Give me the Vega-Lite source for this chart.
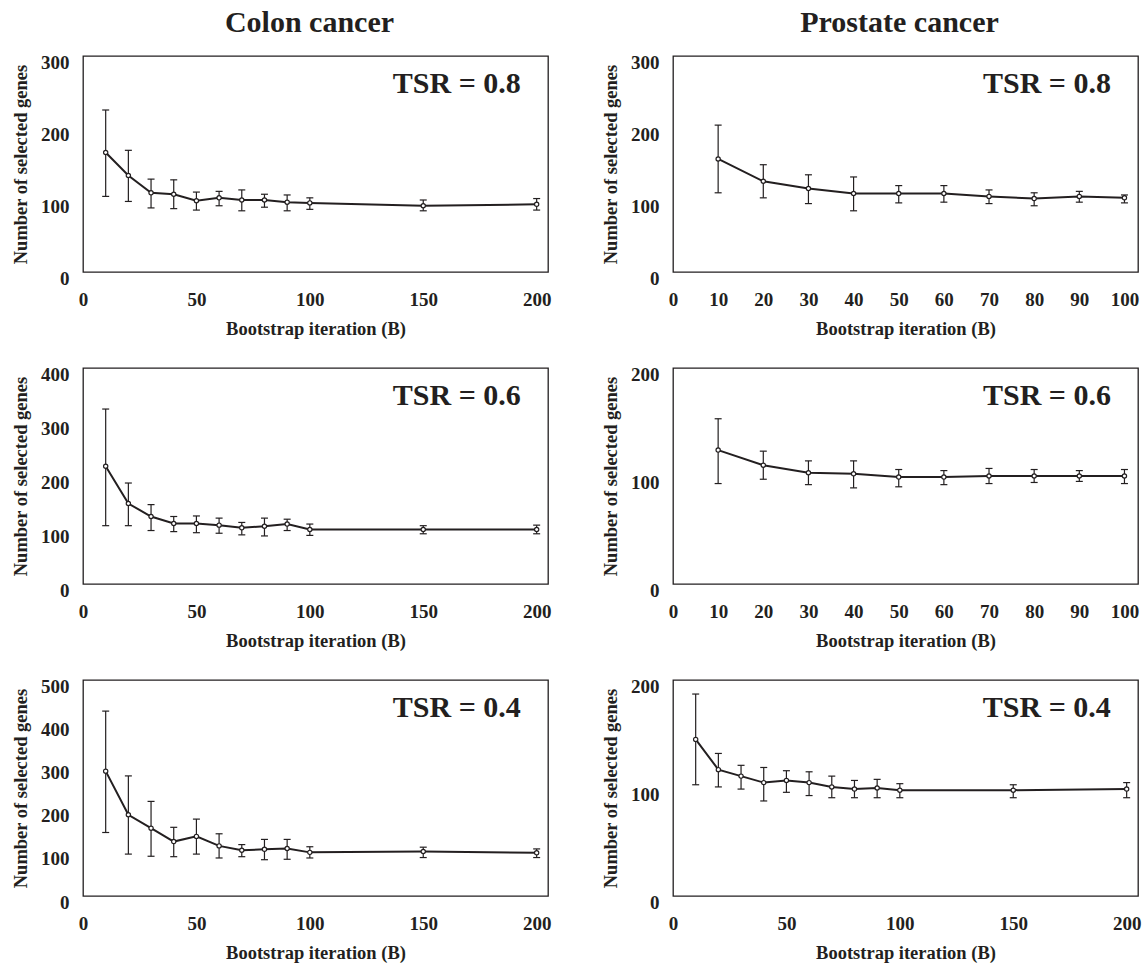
{
  "$schema": "https://vega.github.io/schema/vega-lite/v6.json",
  "background": "white",
  "padding": {"left": 10, "top": 7, "right": 4, "bottom": 4},
  "data": {"values": [
    {"cancer": "Colon", "tsr": 0.8, "B": 10, "mean": 166, "lo": 105, "hi": 225},
    {"cancer": "Colon", "tsr": 0.8, "B": 20, "mean": 134, "lo": 98, "hi": 169},
    {"cancer": "Colon", "tsr": 0.8, "B": 30, "mean": 110, "lo": 89, "hi": 129},
    {"cancer": "Colon", "tsr": 0.8, "B": 40, "mean": 108, "lo": 88, "hi": 128},
    {"cancer": "Colon", "tsr": 0.8, "B": 50, "mean": 99, "lo": 86, "hi": 111},
    {"cancer": "Colon", "tsr": 0.8, "B": 60, "mean": 103, "lo": 92, "hi": 112},
    {"cancer": "Colon", "tsr": 0.8, "B": 70, "mean": 100, "lo": 85, "hi": 114},
    {"cancer": "Colon", "tsr": 0.8, "B": 80, "mean": 100, "lo": 90, "hi": 108},
    {"cancer": "Colon", "tsr": 0.8, "B": 90, "mean": 97, "lo": 85, "hi": 107},
    {"cancer": "Colon", "tsr": 0.8, "B": 100, "mean": 96, "lo": 87, "hi": 103},
    {"cancer": "Colon", "tsr": 0.8, "B": 150, "mean": 92, "lo": 85, "hi": 100},
    {"cancer": "Colon", "tsr": 0.8, "B": 200, "mean": 94, "lo": 86, "hi": 102},
    {"cancer": "Prostate", "tsr": 0.8, "B": 10, "mean": 157, "lo": 110, "hi": 204},
    {"cancer": "Prostate", "tsr": 0.8, "B": 20, "mean": 126, "lo": 103, "hi": 149},
    {"cancer": "Prostate", "tsr": 0.8, "B": 30, "mean": 116, "lo": 95, "hi": 135},
    {"cancer": "Prostate", "tsr": 0.8, "B": 40, "mean": 109, "lo": 85, "hi": 132},
    {"cancer": "Prostate", "tsr": 0.8, "B": 50, "mean": 109, "lo": 96, "hi": 120},
    {"cancer": "Prostate", "tsr": 0.8, "B": 60, "mean": 109, "lo": 97, "hi": 120},
    {"cancer": "Prostate", "tsr": 0.8, "B": 70, "mean": 105, "lo": 95, "hi": 114},
    {"cancer": "Prostate", "tsr": 0.8, "B": 80, "mean": 102, "lo": 92, "hi": 110},
    {"cancer": "Prostate", "tsr": 0.8, "B": 90, "mean": 105, "lo": 97, "hi": 112},
    {"cancer": "Prostate", "tsr": 0.8, "B": 100, "mean": 103, "lo": 96, "hi": 107},
    {"cancer": "Colon", "tsr": 0.6, "B": 10, "mean": 218, "lo": 108, "hi": 324},
    {"cancer": "Colon", "tsr": 0.6, "B": 20, "mean": 149, "lo": 108, "hi": 187},
    {"cancer": "Colon", "tsr": 0.6, "B": 30, "mean": 125, "lo": 99, "hi": 147},
    {"cancer": "Colon", "tsr": 0.6, "B": 40, "mean": 112, "lo": 97, "hi": 125},
    {"cancer": "Colon", "tsr": 0.6, "B": 50, "mean": 112, "lo": 95, "hi": 126},
    {"cancer": "Colon", "tsr": 0.6, "B": 60, "mean": 109, "lo": 94, "hi": 122},
    {"cancer": "Colon", "tsr": 0.6, "B": 70, "mean": 104, "lo": 91, "hi": 114},
    {"cancer": "Colon", "tsr": 0.6, "B": 80, "mean": 107, "lo": 89, "hi": 122},
    {"cancer": "Colon", "tsr": 0.6, "B": 90, "mean": 111, "lo": 99, "hi": 120},
    {"cancer": "Colon", "tsr": 0.6, "B": 100, "mean": 101, "lo": 90, "hi": 111},
    {"cancer": "Colon", "tsr": 0.6, "B": 150, "mean": 101, "lo": 93, "hi": 108},
    {"cancer": "Colon", "tsr": 0.6, "B": 200, "mean": 101, "lo": 93, "hi": 109},
    {"cancer": "Prostate", "tsr": 0.6, "B": 10, "mean": 124, "lo": 93, "hi": 153},
    {"cancer": "Prostate", "tsr": 0.6, "B": 20, "mean": 110, "lo": 97, "hi": 123},
    {"cancer": "Prostate", "tsr": 0.6, "B": 30, "mean": 103, "lo": 92, "hi": 114},
    {"cancer": "Prostate", "tsr": 0.6, "B": 40, "mean": 102, "lo": 89, "hi": 114},
    {"cancer": "Prostate", "tsr": 0.6, "B": 50, "mean": 99, "lo": 90, "hi": 106},
    {"cancer": "Prostate", "tsr": 0.6, "B": 60, "mean": 99, "lo": 92, "hi": 105},
    {"cancer": "Prostate", "tsr": 0.6, "B": 70, "mean": 100, "lo": 93, "hi": 107},
    {"cancer": "Prostate", "tsr": 0.6, "B": 80, "mean": 100, "lo": 94, "hi": 106},
    {"cancer": "Prostate", "tsr": 0.6, "B": 90, "mean": 100, "lo": 95, "hi": 105},
    {"cancer": "Prostate", "tsr": 0.6, "B": 100, "mean": 100, "lo": 93, "hi": 106},
    {"cancer": "Colon", "tsr": 0.4, "B": 10, "mean": 289, "lo": 147, "hi": 428},
    {"cancer": "Colon", "tsr": 0.4, "B": 20, "mean": 188, "lo": 97, "hi": 278},
    {"cancer": "Colon", "tsr": 0.4, "B": 30, "mean": 157, "lo": 92, "hi": 219},
    {"cancer": "Colon", "tsr": 0.4, "B": 40, "mean": 126, "lo": 91, "hi": 159},
    {"cancer": "Colon", "tsr": 0.4, "B": 50, "mean": 138, "lo": 97, "hi": 178},
    {"cancer": "Colon", "tsr": 0.4, "B": 60, "mean": 116, "lo": 88, "hi": 144},
    {"cancer": "Colon", "tsr": 0.4, "B": 70, "mean": 106, "lo": 91, "hi": 119},
    {"cancer": "Colon", "tsr": 0.4, "B": 80, "mean": 108, "lo": 84, "hi": 131},
    {"cancer": "Colon", "tsr": 0.4, "B": 90, "mean": 110, "lo": 85, "hi": 131},
    {"cancer": "Colon", "tsr": 0.4, "B": 100, "mean": 101, "lo": 88, "hi": 114},
    {"cancer": "Colon", "tsr": 0.4, "B": 150, "mean": 103, "lo": 89, "hi": 113},
    {"cancer": "Colon", "tsr": 0.4, "B": 200, "mean": 100, "lo": 89, "hi": 109},
    {"cancer": "Prostate", "tsr": 0.4, "B": 10, "mean": 145, "lo": 103, "hi": 187},
    {"cancer": "Prostate", "tsr": 0.4, "B": 20, "mean": 117, "lo": 101, "hi": 132},
    {"cancer": "Prostate", "tsr": 0.4, "B": 30, "mean": 111, "lo": 99, "hi": 121},
    {"cancer": "Prostate", "tsr": 0.4, "B": 40, "mean": 105, "lo": 88, "hi": 119},
    {"cancer": "Prostate", "tsr": 0.4, "B": 50, "mean": 107, "lo": 96, "hi": 116},
    {"cancer": "Prostate", "tsr": 0.4, "B": 60, "mean": 105, "lo": 93, "hi": 115},
    {"cancer": "Prostate", "tsr": 0.4, "B": 70, "mean": 101, "lo": 91, "hi": 111},
    {"cancer": "Prostate", "tsr": 0.4, "B": 80, "mean": 99, "lo": 91, "hi": 107},
    {"cancer": "Prostate", "tsr": 0.4, "B": 90, "mean": 100, "lo": 91, "hi": 108},
    {"cancer": "Prostate", "tsr": 0.4, "B": 100, "mean": 98, "lo": 91, "hi": 104},
    {"cancer": "Prostate", "tsr": 0.4, "B": 150, "mean": 98, "lo": 91, "hi": 103},
    {"cancer": "Prostate", "tsr": 0.4, "B": 200, "mean": 99, "lo": 91, "hi": 105}
  ]},
  "columns": 2,
  "bounds": "flush",
  "spacing": {"row": 96, "column": 125},
  "concat": [
    {
      "width": 465, "height": 216,
      "title": {"text": "Colon cancer"},
      "transform": [{"filter": "datum.cancer === 'Colon' && datum.tsr === 0.8"}],
      "layer": [
        {"mark": {"type": "rule", "color": "#231f20", "strokeWidth": 1.2},
         "encoding": {
           "x": {"field": "B", "type": "quantitative", "title": "Bootstrap iteration (B)", "scale": {"domain": [0, 205], "nice": false}, "axis": {"values": [0, 50, 100, 150, 200]}},
           "y": {"field": "lo", "type": "quantitative", "title": "Number of selected genes", "scale": {"domain": [0, 300], "nice": false}, "axis": {"values": [0, 100, 200, 300]}},
           "y2": {"field": "hi"}}},
        {"mark": {"type": "tick", "orient": "horizontal", "size": 7, "thickness": 1.2, "color": "#231f20", "opacity": 1},
         "encoding": {"x": {"field": "B", "type": "quantitative", "title": "Bootstrap iteration (B)"}, "y": {"field": "lo", "type": "quantitative", "title": "Number of selected genes"}}},
        {"mark": {"type": "tick", "orient": "horizontal", "size": 7, "thickness": 1.2, "color": "#231f20", "opacity": 1},
         "encoding": {"x": {"field": "B", "type": "quantitative", "title": "Bootstrap iteration (B)"}, "y": {"field": "hi", "type": "quantitative", "title": "Number of selected genes"}}},
        {"mark": {"type": "line", "color": "#231f20", "strokeWidth": 2},
         "encoding": {"x": {"field": "B", "type": "quantitative", "title": "Bootstrap iteration (B)"}, "y": {"field": "mean", "type": "quantitative", "title": "Number of selected genes"}}},
        {"mark": {"type": "point", "filled": true, "fill": "white", "stroke": "#231f20", "strokeWidth": 1.2, "size": 18, "opacity": 1},
         "encoding": {"x": {"field": "B", "type": "quantitative", "title": "Bootstrap iteration (B)"}, "y": {"field": "mean", "type": "quantitative", "title": "Number of selected genes"}}},
        {"data": {"values": [{"label": "TSR = 0.8"}]},
         "mark": {"type": "text", "align": "right", "baseline": "alphabetic", "font": "Liberation Serif", "fontSize": 30, "fontWeight": "bold", "color": "#231f20"},
         "encoding": {"x": {"datum": 193, "type": "quantitative", "title": "Bootstrap iteration (B)"}, "y": {"datum": 249, "type": "quantitative", "title": "Number of selected genes"}, "text": {"field": "label"}}}
      ]
    },
    {
      "width": 465, "height": 216,
      "title": {"text": "Prostate cancer"},
      "transform": [{"filter": "datum.cancer === 'Prostate' && datum.tsr === 0.8"}],
      "layer": [
        {"mark": {"type": "rule", "color": "#231f20", "strokeWidth": 1.2},
         "encoding": {
           "x": {"field": "B", "type": "quantitative", "title": "Bootstrap iteration (B)", "scale": {"domain": [0, 103], "nice": false}, "axis": {"values": [0, 10, 20, 30, 40, 50, 60, 70, 80, 90, 100]}},
           "y": {"field": "lo", "type": "quantitative", "title": "Number of selected genes", "scale": {"domain": [0, 300], "nice": false}, "axis": {"values": [0, 100, 200, 300]}},
           "y2": {"field": "hi"}}},
        {"mark": {"type": "tick", "orient": "horizontal", "size": 7, "thickness": 1.2, "color": "#231f20", "opacity": 1},
         "encoding": {"x": {"field": "B", "type": "quantitative", "title": "Bootstrap iteration (B)"}, "y": {"field": "lo", "type": "quantitative", "title": "Number of selected genes"}}},
        {"mark": {"type": "tick", "orient": "horizontal", "size": 7, "thickness": 1.2, "color": "#231f20", "opacity": 1},
         "encoding": {"x": {"field": "B", "type": "quantitative", "title": "Bootstrap iteration (B)"}, "y": {"field": "hi", "type": "quantitative", "title": "Number of selected genes"}}},
        {"mark": {"type": "line", "color": "#231f20", "strokeWidth": 2},
         "encoding": {"x": {"field": "B", "type": "quantitative", "title": "Bootstrap iteration (B)"}, "y": {"field": "mean", "type": "quantitative", "title": "Number of selected genes"}}},
        {"mark": {"type": "point", "filled": true, "fill": "white", "stroke": "#231f20", "strokeWidth": 1.2, "size": 18, "opacity": 1},
         "encoding": {"x": {"field": "B", "type": "quantitative", "title": "Bootstrap iteration (B)"}, "y": {"field": "mean", "type": "quantitative", "title": "Number of selected genes"}}},
        {"data": {"values": [{"label": "TSR = 0.8"}]},
         "mark": {"type": "text", "align": "right", "baseline": "alphabetic", "font": "Liberation Serif", "fontSize": 30, "fontWeight": "bold", "color": "#231f20"},
         "encoding": {"x": {"datum": 97, "type": "quantitative", "title": "Bootstrap iteration (B)"}, "y": {"datum": 249, "type": "quantitative", "title": "Number of selected genes"}, "text": {"field": "label"}}}
      ]
    },
    {
      "width": 465, "height": 216,
      "transform": [{"filter": "datum.cancer === 'Colon' && datum.tsr === 0.6"}],
      "layer": [
        {"mark": {"type": "rule", "color": "#231f20", "strokeWidth": 1.2},
         "encoding": {
           "x": {"field": "B", "type": "quantitative", "title": "Bootstrap iteration (B)", "scale": {"domain": [0, 205], "nice": false}, "axis": {"values": [0, 50, 100, 150, 200]}},
           "y": {"field": "lo", "type": "quantitative", "title": "Number of selected genes", "scale": {"domain": [0, 400], "nice": false}, "axis": {"values": [0, 100, 200, 300, 400]}},
           "y2": {"field": "hi"}}},
        {"mark": {"type": "tick", "orient": "horizontal", "size": 7, "thickness": 1.2, "color": "#231f20", "opacity": 1},
         "encoding": {"x": {"field": "B", "type": "quantitative", "title": "Bootstrap iteration (B)"}, "y": {"field": "lo", "type": "quantitative", "title": "Number of selected genes"}}},
        {"mark": {"type": "tick", "orient": "horizontal", "size": 7, "thickness": 1.2, "color": "#231f20", "opacity": 1},
         "encoding": {"x": {"field": "B", "type": "quantitative", "title": "Bootstrap iteration (B)"}, "y": {"field": "hi", "type": "quantitative", "title": "Number of selected genes"}}},
        {"mark": {"type": "line", "color": "#231f20", "strokeWidth": 2},
         "encoding": {"x": {"field": "B", "type": "quantitative", "title": "Bootstrap iteration (B)"}, "y": {"field": "mean", "type": "quantitative", "title": "Number of selected genes"}}},
        {"mark": {"type": "point", "filled": true, "fill": "white", "stroke": "#231f20", "strokeWidth": 1.2, "size": 18, "opacity": 1},
         "encoding": {"x": {"field": "B", "type": "quantitative", "title": "Bootstrap iteration (B)"}, "y": {"field": "mean", "type": "quantitative", "title": "Number of selected genes"}}},
        {"data": {"values": [{"label": "TSR = 0.6"}]},
         "mark": {"type": "text", "align": "right", "baseline": "alphabetic", "font": "Liberation Serif", "fontSize": 30, "fontWeight": "bold", "color": "#231f20"},
         "encoding": {"x": {"datum": 193, "type": "quantitative", "title": "Bootstrap iteration (B)"}, "y": {"datum": 332, "type": "quantitative", "title": "Number of selected genes"}, "text": {"field": "label"}}}
      ]
    },
    {
      "width": 465, "height": 216,
      "transform": [{"filter": "datum.cancer === 'Prostate' && datum.tsr === 0.6"}],
      "layer": [
        {"mark": {"type": "rule", "color": "#231f20", "strokeWidth": 1.2},
         "encoding": {
           "x": {"field": "B", "type": "quantitative", "title": "Bootstrap iteration (B)", "scale": {"domain": [0, 103], "nice": false}, "axis": {"values": [0, 10, 20, 30, 40, 50, 60, 70, 80, 90, 100]}},
           "y": {"field": "lo", "type": "quantitative", "title": "Number of selected genes", "scale": {"domain": [0, 200], "nice": false}, "axis": {"values": [0, 100, 200]}},
           "y2": {"field": "hi"}}},
        {"mark": {"type": "tick", "orient": "horizontal", "size": 7, "thickness": 1.2, "color": "#231f20", "opacity": 1},
         "encoding": {"x": {"field": "B", "type": "quantitative", "title": "Bootstrap iteration (B)"}, "y": {"field": "lo", "type": "quantitative", "title": "Number of selected genes"}}},
        {"mark": {"type": "tick", "orient": "horizontal", "size": 7, "thickness": 1.2, "color": "#231f20", "opacity": 1},
         "encoding": {"x": {"field": "B", "type": "quantitative", "title": "Bootstrap iteration (B)"}, "y": {"field": "hi", "type": "quantitative", "title": "Number of selected genes"}}},
        {"mark": {"type": "line", "color": "#231f20", "strokeWidth": 2},
         "encoding": {"x": {"field": "B", "type": "quantitative", "title": "Bootstrap iteration (B)"}, "y": {"field": "mean", "type": "quantitative", "title": "Number of selected genes"}}},
        {"mark": {"type": "point", "filled": true, "fill": "white", "stroke": "#231f20", "strokeWidth": 1.2, "size": 18, "opacity": 1},
         "encoding": {"x": {"field": "B", "type": "quantitative", "title": "Bootstrap iteration (B)"}, "y": {"field": "mean", "type": "quantitative", "title": "Number of selected genes"}}},
        {"data": {"values": [{"label": "TSR = 0.6"}]},
         "mark": {"type": "text", "align": "right", "baseline": "alphabetic", "font": "Liberation Serif", "fontSize": 30, "fontWeight": "bold", "color": "#231f20"},
         "encoding": {"x": {"datum": 97, "type": "quantitative", "title": "Bootstrap iteration (B)"}, "y": {"datum": 166, "type": "quantitative", "title": "Number of selected genes"}, "text": {"field": "label"}}}
      ]
    },
    {
      "width": 465, "height": 216,
      "transform": [{"filter": "datum.cancer === 'Colon' && datum.tsr === 0.4"}],
      "layer": [
        {"mark": {"type": "rule", "color": "#231f20", "strokeWidth": 1.2},
         "encoding": {
           "x": {"field": "B", "type": "quantitative", "title": "Bootstrap iteration (B)", "scale": {"domain": [0, 205], "nice": false}, "axis": {"values": [0, 50, 100, 150, 200]}},
           "y": {"field": "lo", "type": "quantitative", "title": "Number of selected genes", "scale": {"domain": [0, 500], "nice": false}, "axis": {"values": [0, 100, 200, 300, 400, 500]}},
           "y2": {"field": "hi"}}},
        {"mark": {"type": "tick", "orient": "horizontal", "size": 7, "thickness": 1.2, "color": "#231f20", "opacity": 1},
         "encoding": {"x": {"field": "B", "type": "quantitative", "title": "Bootstrap iteration (B)"}, "y": {"field": "lo", "type": "quantitative", "title": "Number of selected genes"}}},
        {"mark": {"type": "tick", "orient": "horizontal", "size": 7, "thickness": 1.2, "color": "#231f20", "opacity": 1},
         "encoding": {"x": {"field": "B", "type": "quantitative", "title": "Bootstrap iteration (B)"}, "y": {"field": "hi", "type": "quantitative", "title": "Number of selected genes"}}},
        {"mark": {"type": "line", "color": "#231f20", "strokeWidth": 2},
         "encoding": {"x": {"field": "B", "type": "quantitative", "title": "Bootstrap iteration (B)"}, "y": {"field": "mean", "type": "quantitative", "title": "Number of selected genes"}}},
        {"mark": {"type": "point", "filled": true, "fill": "white", "stroke": "#231f20", "strokeWidth": 1.2, "size": 18, "opacity": 1},
         "encoding": {"x": {"field": "B", "type": "quantitative", "title": "Bootstrap iteration (B)"}, "y": {"field": "mean", "type": "quantitative", "title": "Number of selected genes"}}},
        {"data": {"values": [{"label": "TSR = 0.4"}]},
         "mark": {"type": "text", "align": "right", "baseline": "alphabetic", "font": "Liberation Serif", "fontSize": 30, "fontWeight": "bold", "color": "#231f20"},
         "encoding": {"x": {"datum": 193, "type": "quantitative", "title": "Bootstrap iteration (B)"}, "y": {"datum": 415, "type": "quantitative", "title": "Number of selected genes"}, "text": {"field": "label"}}}
      ]
    },
    {
      "width": 465, "height": 216,
      "transform": [{"filter": "datum.cancer === 'Prostate' && datum.tsr === 0.4"}],
      "layer": [
        {"mark": {"type": "rule", "color": "#231f20", "strokeWidth": 1.2},
         "encoding": {
           "x": {"field": "B", "type": "quantitative", "title": "Bootstrap iteration (B)", "scale": {"domain": [0, 205], "nice": false}, "axis": {"values": [0, 50, 100, 150, 200]}},
           "y": {"field": "lo", "type": "quantitative", "title": "Number of selected genes", "scale": {"domain": [0, 200], "nice": false}, "axis": {"values": [0, 100, 200]}},
           "y2": {"field": "hi"}}},
        {"mark": {"type": "tick", "orient": "horizontal", "size": 7, "thickness": 1.2, "color": "#231f20", "opacity": 1},
         "encoding": {"x": {"field": "B", "type": "quantitative", "title": "Bootstrap iteration (B)"}, "y": {"field": "lo", "type": "quantitative", "title": "Number of selected genes"}}},
        {"mark": {"type": "tick", "orient": "horizontal", "size": 7, "thickness": 1.2, "color": "#231f20", "opacity": 1},
         "encoding": {"x": {"field": "B", "type": "quantitative", "title": "Bootstrap iteration (B)"}, "y": {"field": "hi", "type": "quantitative", "title": "Number of selected genes"}}},
        {"mark": {"type": "line", "color": "#231f20", "strokeWidth": 2},
         "encoding": {"x": {"field": "B", "type": "quantitative", "title": "Bootstrap iteration (B)"}, "y": {"field": "mean", "type": "quantitative", "title": "Number of selected genes"}}},
        {"mark": {"type": "point", "filled": true, "fill": "white", "stroke": "#231f20", "strokeWidth": 1.2, "size": 18, "opacity": 1},
         "encoding": {"x": {"field": "B", "type": "quantitative", "title": "Bootstrap iteration (B)"}, "y": {"field": "mean", "type": "quantitative", "title": "Number of selected genes"}}},
        {"data": {"values": [{"label": "TSR = 0.4"}]},
         "mark": {"type": "text", "align": "right", "baseline": "alphabetic", "font": "Liberation Serif", "fontSize": 30, "fontWeight": "bold", "color": "#231f20"},
         "encoding": {"x": {"datum": 193, "type": "quantitative", "title": "Bootstrap iteration (B)"}, "y": {"datum": 166, "type": "quantitative", "title": "Number of selected genes"}, "text": {"field": "label"}}}
      ]
    }
  ],
  "config": {
    "font": "Liberation Serif",
    "view": {"stroke": "#231f20", "strokeWidth": 1.3},
    "axis": {
      "grid": false, "domain": false, "ticks": false, "tickSize": 0,
      "labelFont": "Liberation Serif", "labelFontWeight": "bold", "labelFontSize": 19, "labelColor": "#231f20",
      "labelFlush": false, "labelOverlap": false, "labelBound": false,
      "titleFont": "Liberation Serif", "titleFontWeight": "bold", "titleFontSize": 18.5, "titleColor": "#231f20"
    },
    "axisX": {"labelPadding": 18, "titlePadding": 10},
    "axisY": {"labelPadding": 14, "titlePadding": 10, "labelOffset": 6},
    "title": {"font": "Liberation Serif", "fontSize": 30, "fontWeight": "bold", "color": "#231f20", "frame": "group", "anchor": "middle", "offset": 15, "baseline": "alphabetic", "dx": -6}
  }
}
